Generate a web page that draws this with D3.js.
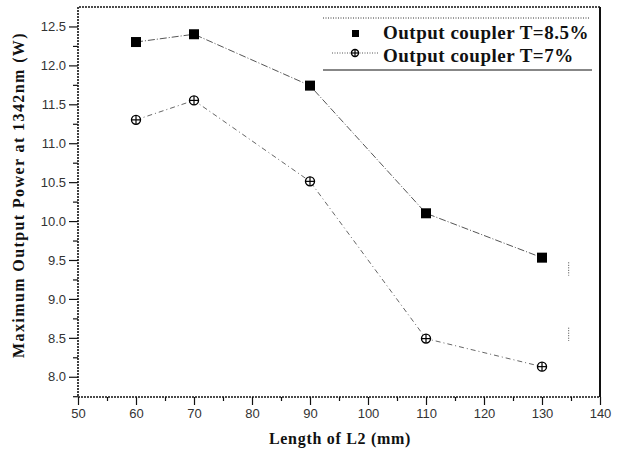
<!DOCTYPE html>
<html>
<head>
<meta charset="utf-8">
<script src="https://cdn.jsdelivr.net/npm/d3@7"></script>
<style>
  body { margin: 0; background: #fff; }
  .tick text { font-family: 'Liberation Sans', Arial, sans-serif; font-size: 13px; fill: #333; }
  .label { font-family: 'Liberation Serif', 'Times New Roman', serif; font-weight: bold; font-size: 16px; fill: #111; }
  .legend text { font-family: 'Liberation Serif', 'Times New Roman', serif; font-weight: bold; font-size: 19px; letter-spacing: 0.5px; fill: #111; }
</style>
</head>
<body>
<div id="draw"></div>
<script>
// data
const lengths = [60, 70, 90, 110, 130]
const powerT85 = [12.3, 12.4, 11.74, 10.1, 9.53]
const powerT7 = [11.3, 11.55, 10.51, 8.49, 8.13]
const seriesNames = ['Output coupler T=8.5%', 'Output coupler T=7%']
const xTicks = [50, 60, 70, 80, 90, 100, 110, 120, 130, 140]
const yTicks = [8.0, 8.5, 9.0, 9.5, 10.0, 10.5, 11.0, 11.5, 12.0, 12.5]

let margin = { top: 7, right: 20, bottom: 58, left: 78 }
let width = 620 - margin.left - margin.right
let height = 455 - margin.top - margin.bottom

let svg = d3.select('#draw')
  .append('svg')
  .attr('width', 620)
  .attr('height', 455)
  .append('g')
  .attr('transform', 'translate(' + margin.left + ',' + margin.top + ')')

let xScale = d3.scaleLinear().domain([50, 140]).range([0, width])
let yScale = d3.scaleLinear().domain([7.74, 12.75]).range([height, 0])

// minor ticks first
svg.append('g')
  .attr('transform', 'translate(0,' + height + ')')
  .call(d3.axisBottom(xScale).tickValues(d3.range(55, 140, 10)).tickSize(4).tickFormat(''))
  .call(g => g.select('.domain').remove())
svg.append('g')
  .call(d3.axisLeft(yScale).tickValues(d3.range(7.75, 12.75, 0.5)).tickSize(5).tickFormat(''))
  .call(g => g.select('.domain').remove())

svg.append('g')
  .attr('class', 'x axis')
  .attr('transform', 'translate(0,' + height + ')')
  .call(d3.axisBottom(xScale).tickValues(xTicks).tickSize(8).tickPadding(4).tickFormat(d3.format('d')))
  .call(g => g.select('.domain').remove())

svg.append('g')
  .attr('class', 'y axis')
  .call(d3.axisLeft(yScale).tickValues(yTicks).tickSize(9).tickPadding(3).tickFormat(d3.format('.1f')))
  .call(g => g.select('.domain').remove())

svg.selectAll('.tick line').attr('stroke', '#111').attr('stroke-width', 1.2)

// frame: dotted on top/left/bottom, solid on the right
let frame = svg.append('g').attr('fill', 'none')
frame.append('path')
  .attr('d', 'M' + width + ',0H0V' + height + 'H' + width)
  .attr('stroke', '#111').attr('stroke-width', 1.6).attr('stroke-dasharray', '2,1')
frame.append('line')
  .attr('x1', width).attr('x2', width).attr('y1', 0).attr('y2', height)
  .attr('stroke', '#111').attr('stroke-width', 2)

let data85 = lengths.map((d, i) => ({ x: d, y: powerT85[i] }))
let data7 = lengths.map((d, i) => ({ x: d, y: powerT7[i] }))

let line = d3.line().x(d => xScale(d.x)).y(d => yScale(d.y))

svg.append('path')
  .datum(data85)
  .attr('d', line)
  .attr('fill', 'none')
  .attr('stroke', '#555')
  .attr('stroke-width', 1)
  .attr('stroke-dasharray', '7,2,1,2')

svg.append('path')
  .datum(data7)
  .attr('d', line)
  .attr('fill', 'none')
  .attr('stroke', '#666')
  .attr('stroke-width', 1)
  .attr('stroke-dasharray', '5,3,1,3')

svg.selectAll('.sq')
  .data(data85)
  .enter().append('rect')
  .attr('class', 'sq')
  .attr('x', d => xScale(d.x) - 5)
  .attr('y', d => yScale(d.y) - 5)
  .attr('width', 10)
  .attr('height', 10)
  .attr('fill', '#000')

function crossCircle (g, cx, cy, r) {
  g.append('circle').attr('cx', cx).attr('cy', cy).attr('r', r)
    .attr('fill', '#fff').attr('stroke', '#000').attr('stroke-width', 1.4)
  g.append('line').attr('x1', cx - r).attr('x2', cx + r).attr('y1', cy).attr('y2', cy)
    .attr('stroke', '#000').attr('stroke-width', 1.2)
  g.append('line').attr('x1', cx).attr('x2', cx).attr('y1', cy - r).attr('y2', cy + r)
    .attr('stroke', '#000').attr('stroke-width', 1.2)
}

let markers7 = svg.append('g')
data7.forEach(d => crossCircle(markers7, xScale(d.x), yScale(d.y), 4.5))

// stray dotted marks near right edge
svg.append('line').attr('x1', xScale(134.6)).attr('x2', xScale(134.6))
  .attr('y1', yScale(9.47)).attr('y2', yScale(9.3))
  .attr('stroke', '#444').attr('stroke-dasharray', '1,1.5')
svg.append('line').attr('x1', xScale(134.6)).attr('x2', xScale(134.6))
  .attr('y1', yScale(8.63)).attr('y2', yScale(8.46))
  .attr('stroke', '#444').attr('stroke-dasharray', '1,1.5')

// legend
let legend = svg.append('g').attr('class', 'legend')
legend.append('line')
  .attr('x1', 245).attr('x2', 512).attr('y1', 11).attr('y2', 11)
  .attr('stroke', '#333').attr('stroke-dasharray', '1,1.5')
legend.append('line')
  .attr('x1', 245).attr('x2', 514).attr('y1', 63).attr('y2', 63)
  .attr('stroke', '#111').attr('stroke-width', 1.2)
legend.append('rect')
  .attr('x', 274).attr('y', 23).attr('width', 7).attr('height', 7)
  .attr('fill', '#000')
legend.append('line')
  .attr('x1', 254).attr('x2', 300).attr('y1', 46).attr('y2', 46)
  .attr('stroke', '#555').attr('stroke-dasharray', '1,1.5')
crossCircle(legend, 277, 46, 3.5)
legend.append('text').attr('x', 305).attr('y', 32).text(seriesNames[0])
legend.append('text').attr('x', 305).attr('y', 55).text(seriesNames[1])

// axis labels
svg.append('text')
  .attr('class', 'label')
  .attr('x', width / 2 + 1)
  .attr('y', height + 47)
  .attr('text-anchor', 'middle')
  .style('letter-spacing', '0.7px')
  .text('Length of L2 (mm)')

svg.append('text')
  .attr('class', 'label')
  .attr('transform', 'translate(' + (-54) + ',' + (height / 2 - 7) + ') rotate(-90)')
  .attr('text-anchor', 'middle')
  .style('letter-spacing', '1.4px')
  .text('Maximum Output Power at 1342nm (W)')
</script>
</body>
</html>
